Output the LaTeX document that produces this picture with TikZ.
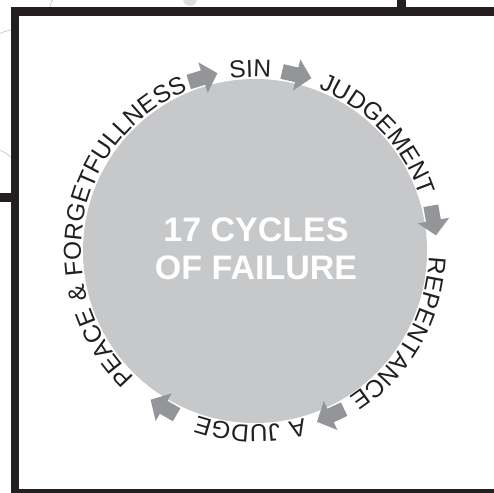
\documentclass[tikz,border=0pt]{standalone}
\usepackage{fontspec}
\setmainfont{Liberation Sans}
\newfontfamily\stagefamily[LetterSpace=7]{Liberation Sans}
\usetikzlibrary{decorations.text}
\definecolor{framegray}{HTML}{231F20}
\definecolor{discgray}{HTML}{C7C8CA}
\definecolor{arrowgray}{HTML}{939598}
\definecolor{faintgray}{HTML}{C8C8C8}
\newcommand\stagefont{\stagefamily\fontsize{24.5}{25}\selectfont}
\def\cyclearrow(#1){\fill[arrowgray, shift={(#1:181)}, rotate=#1-90] (-14,-7.5) -- (1,-7.5) -- (1,-16) -- (16,0) -- (1,16) -- (1,7.5) -- (-14,7.5) -- cycle;}
\def\cyclelabel(#1)#2{\path[decorate, decoration={text along path, text={|\stagefont|#2}, text align=center, text color=framegray}] (#1+75:174) arc (#1+75:#1-75:174);}

\begin{document}
\begin{tikzpicture}[x=1pt, y=1pt]
		%%%%% START %%%%%
		\useasboundingbox (-255, -241) rectangle (239, 251);
		\clip (-255, -241) rectangle (239, 251);
		
		% bits of the page behind
		\draw[faintgray, line width=0.7] (-202, 252) to[bend right=10] (-205, 244);
		\draw[faintgray, line width=0.7] (-256, 217) to[bend left=8] (-244, 221);
		\draw[faintgray, line width=0.7] (-256, 101) to[bend left=10] (-244, 94);
		\fill[faintgray!60] (-65, 252) circle (7);
		
		% frame
		\draw[framegray, line width=8.5] (260, 239.5) -- (-240, 239.5) -- (-240, -242.5) -- (260, -242.5);
		\draw[framegray, line width=8.5] (146.5, 239.5) -- (146.5, 256);
		\draw[framegray, line width=8.5] (-260, 53.5) -- (-240, 53.5);
		
		% disc
		\fill[discgray] (0, 0) circle (172);
		\node[text=white, font=\bfseries\fontsize{34}{38}\selectfont, align=center] (title) at (1, 2) {17 CYCLES\\OF FAILURE};
		
		% stages round the disc
		\cyclelabel(91.5){SIN}
		\cyclelabel(43.5){JUDGEMENT}
		\cyclelabel(-29.5){REPENTANCE}
		\cyclelabel(-91.5){A JUDGE}
		\cyclelabel(169.5){PEACE {\&} FORGETFULLNESS}
		
		\cyclearrow(107)
		\cyclearrow(77)
		\cyclearrow(10)
		\cyclearrow(-65)
		\cyclearrow(-120)
		
		%%%%% END %%%%%
\end{tikzpicture}
\end{document}
